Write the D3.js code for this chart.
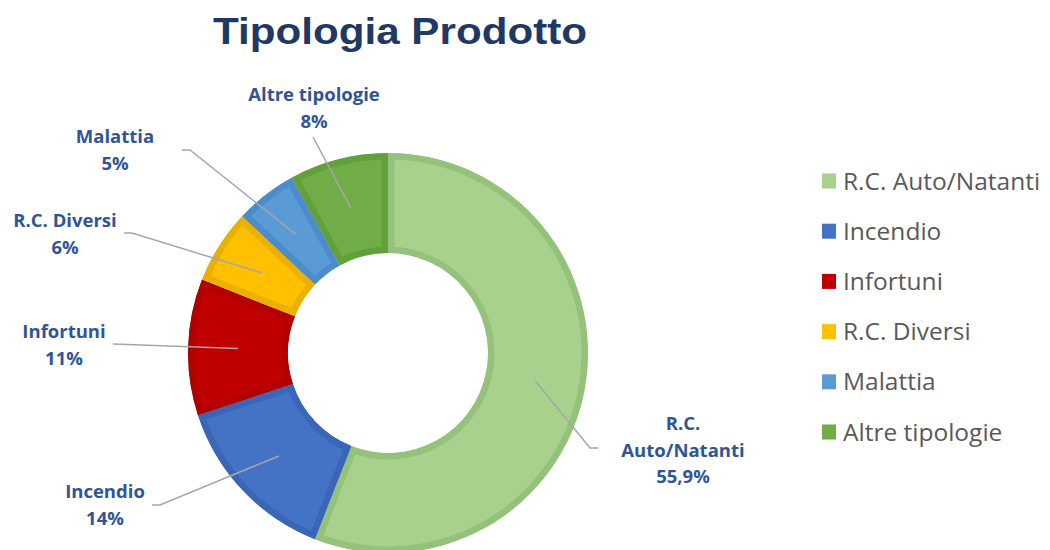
<!DOCTYPE html>
<html>
<head>
<meta charset="utf-8">
<script src="https://cdnjs.cloudflare.com/ajax/libs/d3/7.8.5/d3.min.js"></script>
<style>
  html, body { margin: 0; padding: 0; background: #fff; }
  #chart { width: 1050px; height: 550px; }
</style>
</head>
<body>
<div id="chart"></div>
<script>
// Data
const categories = ["R.C. Auto/Natanti", "Incendio", "Infortuni", "R.C. Diversi", "Malattia", "Altre tipologie"];
const values = [55.9, 14, 11, 6, 5, 8];
const valueLabels = ["55,9%", "14%", "11%", "6%", "5%", "8%"];
const labelLines = [["R.C.", "Auto/Natanti"], ["Incendio"], ["Infortuni"], ["R.C. Diversi"], ["Malattia"], ["Altre tipologie"]];

// Colours: fill + slightly different inner border
const fills = ["#a9d18e", "#4472c4", "#c00000", "#ffc000", "#5b9bd5", "#70ad47"];
const borders = ["#94c27a", "#3a66b8", "#b00000", "#ebb000", "#4d8ccb", "#62a03c"];

// Label layout (text anchor point + leader elbow), Excel-style manual placement
const labelLayout = [
  { x: 683, y: 430, elbow: [590, 448], end: [598, 448] },
  { x: 105, y: 498, elbow: [160, 505], end: [152, 505] },
  { x: 64,  y: 338, elbow: [113, 344], end: [113, 344] },
  { x: 65,  y: 227, elbow: [132, 233], end: [124, 233] },
  { x: 115, y: 143, elbow: [190, 150], end: [182, 150] },
  { x: 314, y: 101, elbow: [313, 137], end: [313, 137] }
];

const width = 1050, height = 550;
const cx = 388, cy = 353, outerR = 200, innerR = 100;

const svg = d3.select("#chart").append("svg")
  .attr("width", width)
  .attr("height", height)
  .style("font-family", "'Open Sans', 'Noto Sans', sans-serif");

// Title
svg.append("text")
  .attr("x", 213)
  .attr("y", 44)
  .attr("textLength", 374)
  .attr("lengthAdjust", "spacingAndGlyphs")
  .style("font-family", "'Liberation Sans', Arial, sans-serif")
  .style("font-weight", "bold")
  .style("font-size", "36px")
  .style("fill", "#1f3864")
  .text("Tipologia Prodotto");

const pie = d3.pie().sort(null).value(d => d);
const arcs = pie(values);
const arc = d3.arc().innerRadius(innerR).outerRadius(outerR);
const midArc = d3.arc().innerRadius(150).outerRadius(150);

const g = svg.append("g").attr("transform", `translate(${cx},${cy})`);
const defs = svg.append("defs");

arcs.forEach((a, i) => {
  defs.append("clipPath").attr("id", "clip" + i)
    .append("path").attr("d", arc(a));
});

g.selectAll("path.slice")
  .data(arcs)
  .enter()
  .append("path")
  .attr("class", "slice")
  .attr("d", arc)
  .attr("fill", (d, i) => fills[i])
  .attr("stroke", (d, i) => borders[i])
  .attr("stroke-width", 13)
  .attr("clip-path", (d, i) => `url(#clip${i})`);

// Leader lines
arcs.forEach((a, i) => {
  const c = midArc.centroid(a);
  const L = labelLayout[i];
  const pts = [[cx + c[0], cy + c[1]], L.elbow, L.end];
  svg.append("polyline")
    .attr("points", pts.map(p => p.join(",")).join(" "))
    .attr("fill", "none")
    .attr("stroke", "#a6a6a6")
    .attr("stroke-width", 1.5);
});

// Data labels
arcs.forEach((a, i) => {
  const L = labelLayout[i];
  const lines = labelLines[i].concat([valueLabels[i]]);
  const t = svg.append("text")
    .attr("text-anchor", "middle")
    .style("font-weight", "bold")
    .style("font-size", "18.5px")
    .style("fill", "#2f5597");
  lines.forEach((ln, j) => {
    t.append("tspan")
      .attr("x", L.x)
      .attr("y", L.y + j * 26.5)
      .text(ln);
  });
});

// Legend
const legend = svg.append("g").attr("transform", "translate(822,0)");
const legendY = d3.scalePoint().domain(categories).range([181, 432]);
categories.forEach((c, i) => {
  const row = legend.append("g").attr("transform", `translate(0,${legendY(c)})`);
  row.append("rect")
    .attr("x", 0).attr("y", -7.5)
    .attr("width", 14).attr("height", 15)
    .attr("fill", fills[i]);
  row.append("text")
    .attr("x", 21).attr("y", 8.5)
    .style("font-size", "24.5px")
    .style("fill", "#595959")
    .text(c);
});
</script>
</body>
</html>
